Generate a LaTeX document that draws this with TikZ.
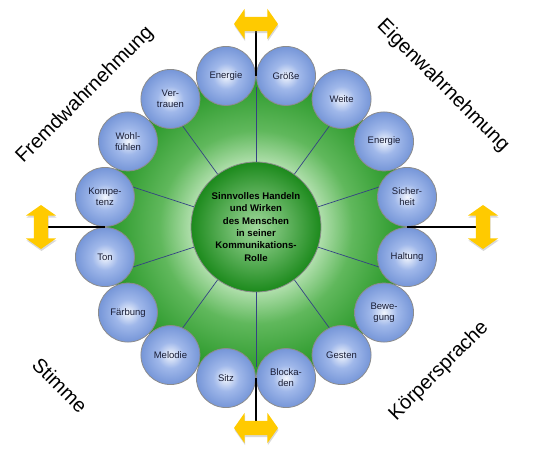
\documentclass[tikz,border=0pt]{standalone}
\usepackage{fontspec}
\setmainfont{Liberation Sans}
\usepackage{tikz}
\usetikzlibrary{
	shapes.arrows,
	shadows
}
\usepackage{xcolor}

\definecolor{ringgreen}{RGB}{38,150,38}
\definecolor{ringpale}{RGB}{225,244,222}
\definecolor{ringlight}{RGB}{186,228,182}
\definecolor{ringmid}{RGB}{96,184,92}
\definecolor{hubgreen}{RGB}{28,138,28}
\definecolor{hublight}{RGB}{160,216,156}
\definecolor{bubblelight}{RGB}{242,246,253}
\definecolor{bubblemid}{RGB}{160,184,234}
\definecolor{bubbleblue}{RGB}{118,150,216}
\definecolor{bordergray}{RGB}{140,140,140}
\definecolor{spokeblue}{RGB}{52,66,132}
\definecolor{labelnavy}{RGB}{24,28,52}
\definecolor{arrowyellow}{RGB}{255,202,0}

\pgfdeclareradialshading{ringshade}{\pgfpoint{0bp}{0bp}}{
	color(0bp)=(ringpale); color(10bp)=(ringlight);
	color(16bp)=(ringmid);
	color(25bp)=(ringgreen); color(50bp)=(ringgreen)}
\pgfdeclareradialshading{hubshade}{\pgfpoint{0bp}{0bp}}{
	color(0bp)=(hublight); color(25bp)=(hubgreen); color(50bp)=(hubgreen)}
\pgfdeclareradialshading{bubbleshade}{\pgfpoint{0bp}{0bp}}{
	color(0bp)=(bubblelight); color(11bp)=(bubblemid);
	color(25bp)=(bubbleblue); color(50bp)=(bubbleblue)}

\begin{document}
\begin{tikzpicture}[x=1pt, y=1pt,
		bubble/.style={circle, minimum size=59pt, inner sep=0pt,
			draw=bordergray, line width=0.8pt, shading=bubbleshade,
			align=center, text=labelnavy,
			font=\fontsize{9.5}{11}\selectfont},
		spoke/.style={spokeblue, line width=0.7pt},
		link/.style={black, line width=1.3pt},
		yarrow/.style={double arrow, fill=arrowyellow, draw=none,
			minimum height=44pt, inner xsep=0pt, inner ysep=7pt,
			double arrow head extend=8pt, double arrow tip angle=110,
			drop shadow={shadow xshift=0.5pt, shadow yshift=-2pt, opacity=0.3}},
		side/.style={font=\fontsize{20}{24}\selectfont}]
		
		\useasboundingbox (-256,-230) rectangle (278,227);
		
		% Green disk
		\shade[shading=ringshade] (0,0) circle (151);
		
		% Hub
		\node[circle, minimum size=130pt, inner sep=0pt,
		draw=bordergray, line width=0.8pt, shading=hubshade,
		align=center, font=\bfseries\fontsize{9.6}{12.3}\selectfont]
		(hub) at (0,0)
		{Sinnvolles Handeln\\und Wirken\\des Menschen\\in seiner\\Kommunikations-\\Rolle};
		
		% Spokes
		\foreach \a in {18,54,...,342}
		\draw[spoke] (hub.\a) -- (\a:140);
		
		% Bubbles
		\foreach \a/\name/\txt in {
			101.25/energieA/Energie, 78.75/groesse/Größe,
			56.25/weite/Weite, 33.75/energieB/Energie,
			11.25/sicherheit/Sicher-\\heit, -11.25/haltung/Haltung,
			-33.75/bewegung/Bewe-\\gung, -56.25/gesten/Gesten,
			-78.75/blockaden/Blocka-\\den, -101.25/sitz/Sitz,
			-123.75/melodie/Melodie, -146.25/faerbung/Färbung,
			-168.75/ton/Ton, 168.75/kompetenz/Kompe-\\tenz,
			146.25/wohl/Wohl-\\fühlen, 123.75/vertrauen/Ver-\\trauen}
		\node[bubble] (\name) at (\a:154) {\txt};
		
		% Links to the arrows
		\coordinate (ntouch) at (90:151);
		\coordinate (stouch) at (270:151);
		\coordinate (wtouch) at (180:151);
		\coordinate (etouch) at (0:151);
		\coordinate (ntip) at (0,203);
		\coordinate (stip) at (0,-201);
		\coordinate (wtip) at (-215,0);
		\coordinate (etip) at (227,0);
		\draw[link] (ntouch) -- (ntip);
		\draw[link] (stouch) -- (stip);
		\draw[link] (wtouch) -- (wtip);
		\draw[link] (etouch) -- (etip);
		
		% Yellow arrows
		\node[yarrow] (narrow) at (ntip) {};
		\node[yarrow] (sarrow) at (stip) {};
		\node[yarrow, rotate=90] (warrow) at (wtip) {};
		\node[yarrow, rotate=90] (earrow) at (etip) {};
		
		% Side labels
		\node[side, rotate=45] (fremd) at (-171,132) {Fremdwahrnehmung};
		\node[side, rotate=-45] (eigen) at (187,141) {Eigenwahrnehmung};
		\node[side, rotate=-45] (stimme) at (-196,-158) {Stimme};
		\node[side, rotate=45] (koerper) at (183,-144) {Körpersprache};
		
	\end{tikzpicture}
\end{document}
